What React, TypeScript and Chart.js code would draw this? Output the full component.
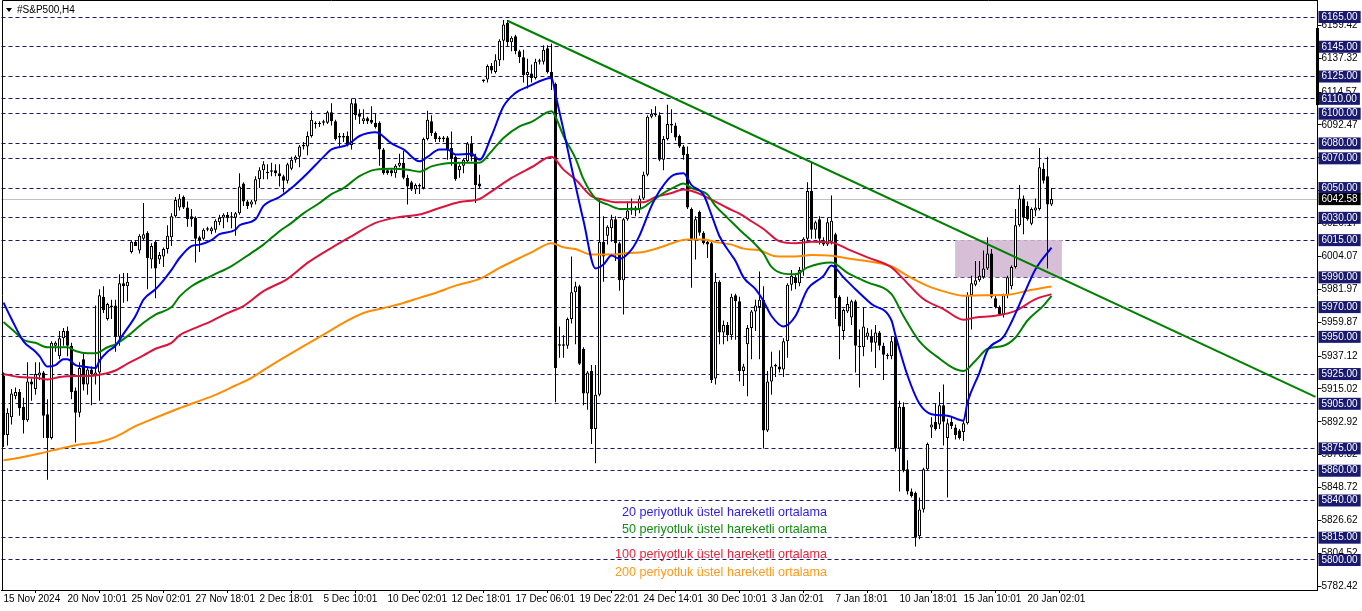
import React, { useEffect, useRef } from "react";
import { Chart, registerables } from "chart.js";

Chart.register(...registerables);

const FONT = "'Liberation Sans', Arial, sans-serif";

// ---- time axis ----
const tickLabels = [
  "15 Nov 2024", "20 Nov 10:01", "25 Nov 02:01", "27 Nov 18:01", "2 Dec 18:01", "5 Dec 10:01",
  "10 Dec 02:01", "12 Dec 18:01", "17 Dec 06:01", "19 Dec 22:01", "24 Dec 14:01", "30 Dec 10:01",
  "3 Jan 02:01", "7 Jan 18:01", "10 Jan 18:01", "15 Jan 10:01", "20 Jan 02:01",
];
const BARS_PER_LABEL = 16;
const SLOT_COUNT = 329;

// ---- H4 candles ----
const candleOpen = [
  5924, 5884, 5896, 5910, 5913, 5903, 5894, 5920, 5915, 5924,
  5926, 5898, 5882, 5944, 5937, 5949, 5954, 5944, 5914, 5899,
  5935, 5918, 5928, 5924, 5926, 5977, 5962, 5971, 5971, 5950,
  5986, 5984, 6007, 6014, 6008, 6016, 6020, 6002, 6014, 6002,
  6004, 6009, 6017, 6031, 6037, 6044, 6037, 6031, 6030, 6017,
  6016, 6022, 6021, 6022, 6027, 6030, 6032, 6030, 6030, 6033,
  6053, 6041, 6039, 6041, 6056, 6062, 6060, 6061, 6062, 6060,
  6058, 6055, 6063, 6069, 6071, 6078, 6078, 6085, 6093, 6093,
  6094, 6094, 6101, 6095, 6085, 6085, 6085, 6079, 6107, 6100,
  6095, 6097, 6096, 6094, 6094, 6076, 6062, 6062, 6060, 6065,
  6067, 6057, 6054, 6049, 6051, 6050, 6083, 6095, 6087, 6084,
  6084, 6084, 6077, 6071, 6062, 6065, 6068, 6080, 6071, 6053,
  6122, 6123, 6132, 6128, 6136, 6149, 6161, 6148, 6152, 6142,
  6138, 6126, 6127, 6124, 6135, 6135, 6144, 6128, 6120, 5944,
  5945, 5944, 5962, 5980, 5984, 5942, 5912, 5927, 5888, 5911,
  6014, 6018, 6023, 6029, 6013, 5988, 6029, 6035, 6037, 6036,
  6043, 6059, 6098, 6099, 6099, 6069, 6083, 6093, 6092, 6085,
  6078, 6073, 6036, 6015, 6034, 6020, 6014, 6013, 5922, 5987,
  5953, 5958, 5951, 5978, 5974, 5927, 5945, 5956, 5967, 5970,
  5975, 5887, 5920, 5930, 5930, 5928, 5947, 5985, 5990, 5986,
  5995, 6016, 6048, 6022, 6029, 6015, 6012, 6014, 6019, 5977,
  5954, 5967, 5963, 5974, 5944, 5943, 5950, 5950, 5946, 5953,
  5944, 5938, 5937, 5950, 5875, 5903, 5861, 5846, 5845, 5816,
  5834, 5861, 5889, 5893, 5891, 5904, 5882, 5893, 5889, 5887,
  5886, 5892, 5978, 5985, 5988, 5990, 5996, 6006, 5976, 5970,
  5965, 5978, 5984, 5997, 6025, 6043, 6038, 6026, 6035, 6036,
  6063, 6058, 6039,
];
const candleHigh = [
  5926, 5902, 5915, 5916, 5915, 5909, 5933, 5922, 5933, 5933,
  5927, 5908, 5947, 5947, 5954, 5956, 5957, 5946, 5916, 5933,
  5939, 5930, 5930, 5971, 5982, 5984, 5973, 5975, 5975, 5992,
  5993, 5993, 6015, 6015, 6019, 6040, 6021, 6013, 6015, 6007,
  6010, 6025, 6033, 6044, 6046, 6045, 6041, 6036, 6031, 6018,
  6023, 6024, 6024, 6029, 6032, 6033, 6034, 6034, 6034, 6060,
  6054, 6042, 6042, 6058, 6064, 6068, 6066, 6067, 6066, 6066,
  6059, 6067, 6071, 6072, 6079, 6081, 6088, 6102, 6095, 6095,
  6096, 6102, 6107, 6096, 6087, 6087, 6088, 6110, 6110, 6103,
  6103, 6098, 6105, 6100, 6095, 6077, 6063, 6063, 6066, 6073,
  6075, 6059, 6055, 6053, 6053, 6084, 6102, 6099, 6088, 6085,
  6085, 6085, 6088, 6072, 6066, 6070, 6081, 6085, 6073, 6059,
  6123, 6133, 6134, 6140, 6150, 6163, 6163, 6152, 6153, 6143,
  6143, 6137, 6133, 6137, 6137, 6146, 6146, 6147, 6121, 5957,
  5951, 5963, 6004, 5987, 5985, 5943, 5927, 5931, 5931, 6043,
  6031, 6025, 6032, 6031, 6014, 6030, 6041, 6043, 6038, 6045,
  6061, 6099, 6103, 6105, 6101, 6085, 6106, 6103, 6094, 6086,
  6079, 6078, 6037, 6031, 6035, 6021, 6015, 6014, 5993, 5988,
  5961, 5960, 5979, 5979, 5977, 5932, 5958, 5968, 5975, 5994,
  5984, 5927, 5940, 5932, 5941, 5949, 5986, 5995, 5993, 5997,
  6017, 6054, 6067, 6028, 6031, 6017, 6030, 6045, 6020, 5978,
  5969, 5977, 5975, 5975, 5955, 5970, 5956, 5955, 5958, 5954,
  5946, 5939, 5950, 5952, 5907, 5906, 5867, 5848, 5846, 5842,
  5862, 5879, 5896, 5905, 5913, 5918, 5895, 5896, 5891, 5888,
  5894, 5980, 5991, 6001, 6001, 6008, 6017, 6009, 5978, 5971,
  5979, 5991, 5998, 6036, 6052, 6045, 6041, 6037, 6043, 6077,
  6067, 6071, 6050,
];
const candleLow = [
  5876, 5877, 5891, 5908, 5897, 5885, 5893, 5907, 5911, 5921,
  5882, 5854, 5881, 5940, 5935, 5944, 5937, 5908, 5879, 5896,
  5914, 5911, 5904, 5918, 5907, 5966, 5961, 5962, 5940, 5944,
  5973, 5974, 6006, 6011, 6006, 6015, 5982, 5996, 5976, 5999,
  5997, 6006, 6011, 6030, 6035, 6036, 6024, 6024, 6000, 6007,
  6015, 6021, 6019, 6020, 6025, 6023, 6027, 6023, 6018, 6032,
  6038, 6036, 6037, 6039, 6050, 6056, 6056, 6058, 6058, 6051,
  6047, 6053, 6062, 6067, 6064, 6076, 6072, 6084, 6090, 6091,
  6092, 6093, 6092, 6082, 6078, 6081, 6078, 6076, 6096, 6093,
  6093, 6093, 6093, 6090, 6065, 6059, 6059, 6058, 6057, 6064,
  6056, 6039, 6048, 6046, 6046, 6049, 6082, 6085, 6081, 6081,
  6081, 6069, 6065, 6055, 6057, 6060, 6067, 6068, 6040, 6050,
  6121, 6121, 6127, 6127, 6132, 6136, 6145, 6142, 6140, 6134,
  6121, 6117, 6121, 6123, 6133, 6133, 6127, 6116, 5906, 5936,
  5936, 5942, 5959, 5945, 5931, 5904, 5901, 5878, 5865, 5910,
  5987, 6012, 6014, 6001, 5981, 5965, 6028, 6032, 6031, 6033,
  6042, 6058, 6097, 6098, 6068, 6062, 6082, 6087, 6082, 6077,
  6069, 6036, 5983, 6002, 6018, 6012, 6003, 5919, 5918, 5945,
  5945, 5947, 5948, 5948, 5920, 5917, 5910, 5935, 5954, 5935,
  5875, 5886, 5911, 5923, 5926, 5923, 5936, 5981, 5982, 5984,
  5991, 6014, 6016, 6016, 6012, 6011, 6011, 6012, 5962, 5935,
  5948, 5966, 5958, 5926, 5916, 5937, 5948, 5940, 5929, 5941,
  5921, 5935, 5935, 5873, 5846, 5859, 5844, 5842, 5809, 5814,
  5832, 5860, 5882, 5887, 5888, 5877, 5842, 5888, 5881, 5881,
  5880, 5891, 5955, 5984, 5987, 5989, 5995, 5976, 5969, 5964,
  5963, 5976, 5982, 5996, 6024, 6019, 6028, 6025, 6031, 6035,
  6053, 5996, 6038,
];
const candleClose = [
  5884, 5899, 5912, 5913, 5902, 5894, 5920, 5918, 5925, 5926,
  5897, 5882, 5946, 5946, 5949, 5954, 5944, 5913, 5899, 5929,
  5918, 5928, 5925, 5926, 5978, 5968, 5972, 5970, 5950, 5986,
  5984, 5987, 6014, 6011, 6018, 6019, 6003, 6011, 5996, 6005,
  6009, 6018, 6031, 6042, 6043, 6037, 6029, 6029, 6016, 6015,
  6022, 6023, 6023, 6028, 6030, 6032, 6030, 6031, 6033, 6051,
  6041, 6038, 6041, 6056, 6062, 6066, 6061, 6062, 6060, 6058,
  6055, 6066, 6069, 6071, 6078, 6079, 6085, 6096, 6094, 6094,
  6095, 6101, 6095, 6083, 6084, 6084, 6079, 6107, 6099, 6098,
  6097, 6095, 6094, 6091, 6076, 6060, 6060, 6060, 6065, 6067,
  6057, 6051, 6049, 6052, 6052, 6083, 6096, 6087, 6083, 6083,
  6083, 6076, 6070, 6056, 6065, 6069, 6080, 6071, 6052, 6051,
  6123, 6132, 6129, 6136, 6149, 6160, 6148, 6151, 6142, 6138,
  6126, 6128, 6124, 6135, 6136, 6143, 6128, 6123, 5929, 5945,
  5944, 5962, 5980, 5984, 5932, 5912, 5926, 5888, 5911, 6014,
  6004, 6024, 6029, 6013, 5988, 6029, 6035, 6037, 6035, 6043,
  6059, 6098, 6100, 6100, 6069, 6083, 6093, 6092, 6084, 6078,
  6072, 6037, 6015, 6029, 6020, 6013, 6012, 5921, 5987, 5953,
  5958, 5951, 5977, 5974, 5927, 5930, 5956, 5967, 5971, 5975,
  5887, 5920, 5930, 5931, 5928, 5947, 5985, 5991, 5986, 5995,
  6016, 6048, 6022, 6027, 6016, 6012, 6027, 6028, 5976, 5957,
  5968, 5972, 5974, 5944, 5943, 5957, 5953, 5946, 5953, 5944,
  5938, 5937, 5947, 5875, 5903, 5860, 5846, 5843, 5815, 5834,
  5861, 5878, 5891, 5888, 5904, 5893, 5892, 5890, 5884, 5882,
  5892, 5978, 5986, 5988, 5991, 5996, 6006, 5977, 5970, 5965,
  5978, 5990, 5997, 6025, 6043, 6030, 6029, 6036, 6037, 6064,
  6055, 6039, 6042.58,
];

// ---- exponential moving averages as [bar index, value] ----
const ema20Points = [
  [0, 5973], [2, 5962], [5, 5947], [8, 5940], [9, 5937], [11, 5930], [13, 5931], [15, 5935], [16, 5935],
  [18, 5931], [20, 5930], [23, 5929], [24, 5934], [26, 5940], [28, 5944], [30, 5952], [33, 5964], [35, 5975],
  [38, 5982], [40, 5988], [42, 5995], [44, 6003], [47, 6011], [49, 6012], [52, 6015], [54, 6019], [58, 6022],
  [59, 6025], [63, 6029], [65, 6038], [69, 6044], [72, 6050], [76, 6060], [80, 6071], [82, 6076], [86, 6079],
  [89, 6085], [93, 6087.5], [94, 6086.6], [97, 6080], [100, 6076], [104, 6068], [106, 6071], [109, 6076],
  [111, 6076], [113, 6072.5], [117, 6073], [119, 6069], [122, 6085], [125, 6105], [128, 6114], [131, 6118],
  [137, 6124], [138, 6113], [140, 6089], [142, 6064], [145, 6028], [148, 5996], [150, 5998.6], [152, 6004.6],
  [154, 6002.4], [157, 6008.6], [159, 6018], [162, 6038], [164, 6048], [167, 6058], [170, 6060], [172, 6052],
  [175, 6045.6], [177, 6032], [179, 6017.6], [182, 6005], [183, 6001], [185, 5990], [188, 5982], [190, 5974],
  [192, 5964], [195, 5957], [198, 5964], [201, 5982], [205, 5991], [207, 5998], [210, 5990], [213, 5982],
  [217, 5972], [222, 5961], [223, 5951], [226, 5924], [229, 5905], [232, 5898], [236, 5897], [240, 5893.6],
  [241, 5906], [244, 5926], [246, 5941], [250, 5950], [252, 5960], [255, 5978], [258, 5995.5], [262, 6010],
];
const ema50Points = [
  [0, 5960], [3, 5953], [5, 5948], [8, 5946], [11, 5943], [14, 5943], [16, 5943], [18, 5940.5], [21, 5939],
  [23, 5939], [26, 5943], [28, 5945], [31, 5950.5], [35, 5959.5], [38, 5965], [42, 5970], [44, 5977], [47, 5984],
  [52, 5991], [57, 5997.6], [62, 6006.5], [65, 6012], [69, 6021], [72, 6026.6], [75, 6033], [79, 6040], [82, 6046],
  [85, 6050], [89, 6058], [93, 6062.4], [97, 6063], [101, 6062.4], [104, 6061], [107, 6064.6], [110, 6066.4],
  [115, 6067], [119, 6067], [122, 6074.7], [125, 6083.7], [129, 6091.5], [132, 6094.5], [137, 6101.6],
  [138, 6098], [140, 6085], [143, 6070], [145, 6056], [148, 6043], [151, 6039], [154, 6036], [159, 6036],
  [162, 6041], [165, 6046.7], [168, 6051], [170, 6053], [172, 6050], [176, 6045.6], [178, 6038], [181, 6030],
  [184, 6022], [188, 6012], [190, 6006], [192, 5997], [195, 5992.5], [198, 5992], [201, 5996.7], [207, 6000],
  [211, 5993], [216, 5986.6], [222, 5978.7], [225, 5964], [229, 5947], [233, 5937.4], [240, 5927], [243, 5934],
  [246, 5942], [250, 5944], [253, 5949.6], [256, 5961], [260, 5971], [262, 5977.6],
];
const ema100Points = [
  [0, 5925], [4, 5923], [8, 5922.5], [11, 5921.4], [14, 5923], [18, 5923.6], [21, 5923.6], [24, 5924.5],
  [28, 5927.4], [31, 5932], [35, 5937.5], [38, 5942], [42, 5946], [44, 5951], [48, 5956], [52, 5960.6],
  [56, 5966], [60, 5970.7], [65, 5980.7], [71, 5989], [76, 5999.7], [82, 6009.8], [87, 6017.6], [93, 6026.6],
  [99, 6030.6], [104, 6032.2], [109, 6036.6], [114, 6040.7], [119, 6042.7], [122, 6047.8], [127, 6056.8],
  [132, 6064], [137, 6071], [140, 6062.4], [143, 6055.7], [147, 6044.5], [150, 6042.2], [153, 6040.4],
  [160, 6040.4], [163, 6044], [167, 6046.7], [170, 6049], [173, 6047.2], [177, 6042.2], [181, 6036.6],
  [184, 6032.8], [187, 6027.7], [190, 6022.5], [194, 6014.2], [198, 6013], [202, 6013.9], [207, 6013.5],
  [211, 6009], [216, 6003.4], [222, 5996.7], [225, 5988.8], [230, 5975.4], [235, 5968.7], [240, 5961.5],
  [243, 5963], [248, 5964.2], [253, 5967.5], [258, 5975.4], [262, 5978.7],
];
const ema200Points = [
  [0, 5867], [4, 5868.7], [9, 5871.6], [14, 5874.8], [19, 5877.7], [24, 5879.3], [28, 5882.8], [33, 5890],
  [38, 5895.6], [43, 5901], [48, 5906], [53, 5911], [58, 5917.3], [62, 5922.5], [65, 5927.6], [70, 5935.8],
  [75, 5943.7], [80, 5951.5], [85, 5959.4], [90, 5966], [95, 5969.4], [100, 5972.8], [104, 5976.2],
  [108, 5979.5], [113, 5984.4], [119, 5989], [124, 5996.3], [129, 6003], [132, 6006.8], [137, 6013],
  [140, 6010.2], [143, 6009], [147, 6005.3], [152, 6005.3], [156, 6006.4], [160, 6007.1], [165, 6010.9],
  [168, 6013.8], [171, 6015.4], [175, 6015.4], [178, 6013.8], [182, 6012], [185, 6009.3], [189, 6008.2],
  [193, 6004.2], [198, 6004], [202, 6005], [207, 6004.5], [212, 6002.3], [218, 6000], [222, 5997.3],
  [226, 5991], [231, 5984.3], [236, 5979.9], [240, 5977.6], [245, 5978], [251, 5978.3], [256, 5981],
  [262, 5983.9],
];

// ---- drawn objects ----
const trendLinePoints = [[126, 6162.5], [328, 5909.7]];
const zoneStart = 237.9;
const zoneEnd = 264.6;
const zoneHigh = 6015;
const zoneLow = 5990;

// ---- price axis ----
const Y_MIN = 5779.83;
const Y_MAX = 6176.43;
const levelPrices = [
  6165, 6145, 6125, 6110, 6100, 6080, 6070, 6050, 6030, 6015,
  5990, 5970, 5950, 5925, 5905, 5875, 5860, 5840, 5815, 5800,
];
const scaleLabels = [
  6159.42, 6137.32, 6114.57, 6092.47, 6070.37, 6048.27, 6026.17, 6004.07, 5981.97,
  5959.87, 5937.12, 5915.02, 5892.92, 5870.82, 5848.72, 5826.62, 5804.52, 5782.42,
];
const lastPrice = 6042.58;

const legendTexts = [
  "20 periyotluk üstel hareketli ortalama",
  "50 periyotluk üstel hareketli ortalama",
  "100 periyotluk üstel hareketli ortalama",
  "200 periyotluk üstel hareketli ortalama",
];
const legendColors = ["#2b1de6", "#138a13", "#e8243c", "#ff9a1a"];
const symbolTitle = "#S&P500,H4";

const LEVEL_COLOR = "#191970";

export default function App() {
  const ref = useRef<HTMLCanvasElement>(null);

  useEffect(() => {
    document.body.style.margin = "0";
    const canvas = ref.current;
    if (!canvas) return;

    const categories = Array.from({ length: SLOT_COUNT }, (_, i) =>
      i % BARS_PER_LABEL === 0 && i / BARS_PER_LABEL < tickLabels.length ? tickLabels[i / BARS_PER_LABEL] : ""
    );
    const padSlots = (arr: any[]) => Array.from({ length: SLOT_COUNT }, (_, i) => (i < arr.length ? arr[i] : null));
    const sparse = (pts: number[][]) => {
      const a: (number | null)[] = new Array(SLOT_COUNT).fill(null);
      pts.forEach(([i, v]) => (a[i] = v));
      return a;
    };
    const wickData = padSlots(candleLow.map((l, i) => [l, candleHigh[i]]));
    const bodyData = padSlots(candleOpen.map((o, i) => [o, candleClose[i]]));
    const bodyFill = candleOpen.map((o, i) => (candleClose[i] >= o ? "#ffffff" : "#000000"));

    const levelSet = new Set(levelPrices);
    const regularSet = new Set(scaleLabels);
    const tv = (ctx: any) => (ctx && ctx.tick ? ctx.tick.value : NaN);

    const lineDs = (label: string, pts: number[][], color: string, order: number) => ({
      type: "line" as const,
      label,
      data: sparse(pts),
      borderColor: color,
      borderWidth: 2,
      pointRadius: 0,
      spanGaps: true,
      cubicInterpolationMode: "monotone" as const,
      order,
    });

    const extras = {
      id: "extras",
      beforeDatasetsDraw(chart: any) {
        const { ctx, scales } = chart;
        const x0 = scales.x.getPixelForValue(zoneStart);
        const x1 = scales.x.getPixelForValue(zoneEnd);
        const y0 = scales.y.getPixelForValue(zoneHigh);
        const y1 = scales.y.getPixelForValue(zoneLow);
        ctx.save();
        ctx.fillStyle = "#d8bfd8";
        ctx.fillRect(x0, y0, x1 - x0, y1 - y0);
        ctx.restore();
      },
      afterDraw(chart: any) {
        const { ctx, chartArea, scales } = chart;
        ctx.save();
        // frame
        ctx.strokeStyle = "#000";
        ctx.lineWidth = 1;
        ctx.beginPath();
        ctx.moveTo(2.5, chartArea.bottom);
        ctx.lineTo(2.5, 0.5);
        ctx.lineTo(chartArea.right, 0.5);
        ctx.stroke();
        // scale marker on the price axis
        const my0 = scales.y.getPixelForValue(6157.6);
        const my1 = scales.y.getPixelForValue(6105.8);
        ctx.fillStyle = "#000";
        ctx.fillRect(Math.round(chartArea.right) - 2, my0, 3, my1 - my0);
        // title
        ctx.beginPath();
        ctx.moveTo(6, 8);
        ctx.lineTo(12, 8);
        ctx.lineTo(9, 12);
        ctx.closePath();
        ctx.fill();
        ctx.font = `10px ${FONT}`;
        ctx.textBaseline = "middle";
        ctx.textAlign = "left";
        ctx.fillText(symbolTitle, 17, 10.5);
        // indicator labels
        const ys = [513, 530, 555, 573];
        ctx.font = `12.6px ${FONT}`;
        ctx.textAlign = "right";
        legendTexts.forEach((t, k) => {
          ctx.fillStyle = legendColors[k];
          ctx.fillText(t, 827, ys[k]);
        });
        ctx.restore();
      },
    };

    const chart = new Chart(canvas, {
      data: {
        labels: categories,
        datasets: [
          {
            type: "bar",
            label: "wick",
            data: wickData as any,
            backgroundColor: "#000000",
            barThickness: 1,
            grouped: false,
            inflateAmount: 0,
            borderWidth: 0,
            order: 9,
          } as any,
          {
            type: "bar",
            label: "body",
            data: bodyData as any,
            backgroundColor: bodyFill,
            borderColor: "#000000",
            borderWidth: 1,
            borderSkipped: false,
            barThickness: 3,
            grouped: false,
            inflateAmount: 0,
            order: 8,
          } as any,
          lineDs("EMA200", ema200Points, "#ff8c00", 4),
          lineDs("EMA100", ema100Points, "#dc143c", 3),
          lineDs("EMA50", ema50Points, "#008000", 2),
          lineDs("EMA20", ema20Points, "#0000e6", 1),
          {
            type: "line",
            label: "trend",
            data: sparse(trendLinePoints),
            borderColor: "#008000",
            borderWidth: 2,
            pointRadius: 0,
            spanGaps: true,
            tension: 0,
            order: 0,
          } as any,
        ],
      },
      options: {
        animation: false,
        responsive: false,
        devicePixelRatio: 1,
        events: [],
        layout: { padding: { left: 1.5, top: 0, right: 0, bottom: 0 } },
        plugins: { legend: { display: false }, tooltip: { enabled: false }, title: { display: false } },
        scales: {
          x: {
            type: "category",
            offset: true,
            afterBuildTicks: (scale: any) => {
              scale.ticks = scale.ticks.filter(
                (t: any) => t.value % BARS_PER_LABEL === 0 && t.value / BARS_PER_LABEL < tickLabels.length
              );
            },
            afterFit: (scale: any) => {
              scale.height = 21;
              scale.paddingLeft = 0;
              scale.paddingRight = 0;
            },
            grid: { display: true, drawOnChartArea: false, drawTicks: true, tickLength: 3, color: "#000" },
            border: { display: true, color: "#000", width: 1 },
            ticks: {
              autoSkip: false,
              maxRotation: 0,
              minRotation: 0,
              align: "start",
              padding: 0,
              color: "#000",
              font: { family: FONT, size: 10 },
            },
          },
          y: {
            type: "linear",
            position: "right",
            min: Y_MIN,
            max: Y_MAX,
            afterBuildTicks: (scale: any) => {
              scale.ticks = [...scaleLabels, ...levelPrices, lastPrice].map((v) => ({ value: v }));
            },
            afterFit: (scale: any) => {
              scale.width = 44.5;
              scale.paddingTop = 0;
              scale.paddingBottom = 0;
            },
            grid: {
              display: true,
              drawOnChartArea: true,
              drawTicks: true,
              tickLength: 4,
              lineWidth: 1,
              color: (ctx: any) => {
                const v = tv(ctx);
                if (v === lastPrice) return "#c0c0c0";
                if (levelSet.has(v)) return LEVEL_COLOR;
                return "rgba(0,0,0,0)";
              },
              tickColor: (ctx: any) => (regularSet.has(tv(ctx)) ? "#000" : "rgba(0,0,0,0)"),
            },
            border: {
              display: true,
              color: "#000",
              width: 1,
              dash: (ctx: any) => (levelSet.has(tv(ctx)) ? [4, 3] : []),
            },
            ticks: {
              autoSkip: false,
              padding: 0,
              font: { family: FONT, size: 10, lineHeight: 1.0 },
              callback: (v: any) => Number(v).toFixed(2),
              color: (ctx: any) => (regularSet.has(tv(ctx)) ? "#000" : "#ffffff"),
              showLabelBackdrop: (ctx: any) => !regularSet.has(tv(ctx)),
              backdropColor: (ctx: any) => {
                const v = tv(ctx);
                if (v === lastPrice) return "#000000";
                if (levelSet.has(v)) return LEVEL_COLOR;
                return "rgba(0,0,0,0)";
              },
              backdropPadding: { top: 1, bottom: 1, left: 3, right: 3 },
            },
          },
        },
      } as any,
      plugins: [extras],
    } as any);

    return () => chart.destroy();
  }, []);

  return <canvas ref={ref} width={1362} height={611} style={{ display: "block", width: 1362, height: 611 }} />;
}
